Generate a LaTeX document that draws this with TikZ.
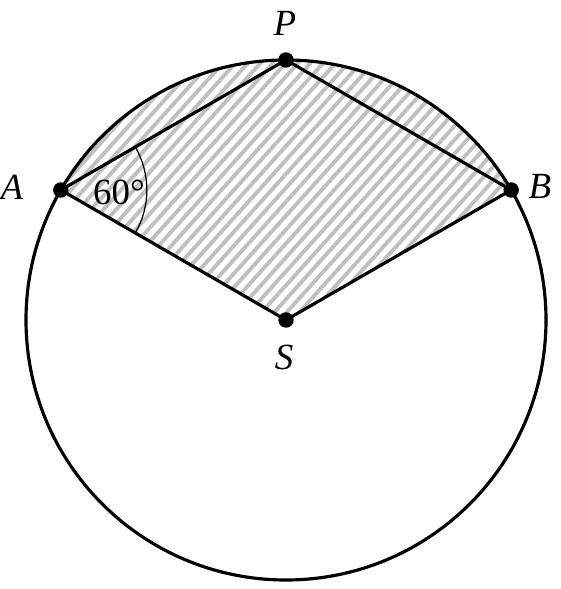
\documentclass[tikz,border=0pt]{standalone}
\usepackage{fontspec}
\setmainfont{Liberation Serif}
\usetikzlibrary{patterns.meta, calc}

\tikzset{
  dot/.style={fill=black, draw=black},
  edge/.style={line width=0.9pt, line join=round},
  lbl/.style={font=\fontsize{10.5}{12}\selectfont\itshape, inner sep=0pt}
}

\begin{document}
\begin{tikzpicture}
\useasboundingbox (-2.86,-2.69) rectangle (2.74,3.20);
%points:
\coordinate (S) at (0,0);
\coordinate (A) at (150:2.6);
\coordinate (P) at (90:2.6);
\coordinate (B) at (30:2.6);
%hatched sector:
\fill[pattern={Lines[angle=48,distance=2.65pt,line width=1.1pt]}, pattern color=gray!50]
  (S) -- (A) arc[start angle=150, end angle=30, radius=2.6] -- cycle;
%circle and rhombus:
\draw[edge] (S) circle (2.6);
\draw[edge] (S) -- (A) -- (P) -- (B) -- cycle;
%angle at A:
\draw[line width=0.35pt] ($(A)+(-30:0.86)$) arc[start angle=-30, end angle=30, radius=0.86];
\node[font=\fontsize{10.5}{12}\selectfont, inner sep=0pt] (ang) at (-1.67,1.28) {60°};
%dots:
\filldraw[dot] (S) circle (0.07);
\filldraw[dot] (A) circle (0.07);
\filldraw[dot] (P) circle (0.07);
\filldraw[dot] (B) circle (0.07);
%labels:
\node[lbl] (lP) at (-0.01,2.97) {P};
\node[lbl] (lA) at (-2.74,1.33) {A};
\node[lbl] (lB) at (2.54,1.34) {B};
\node[lbl] (lS) at (-0.02,-0.37) {S};
\end{tikzpicture}
\end{document}
